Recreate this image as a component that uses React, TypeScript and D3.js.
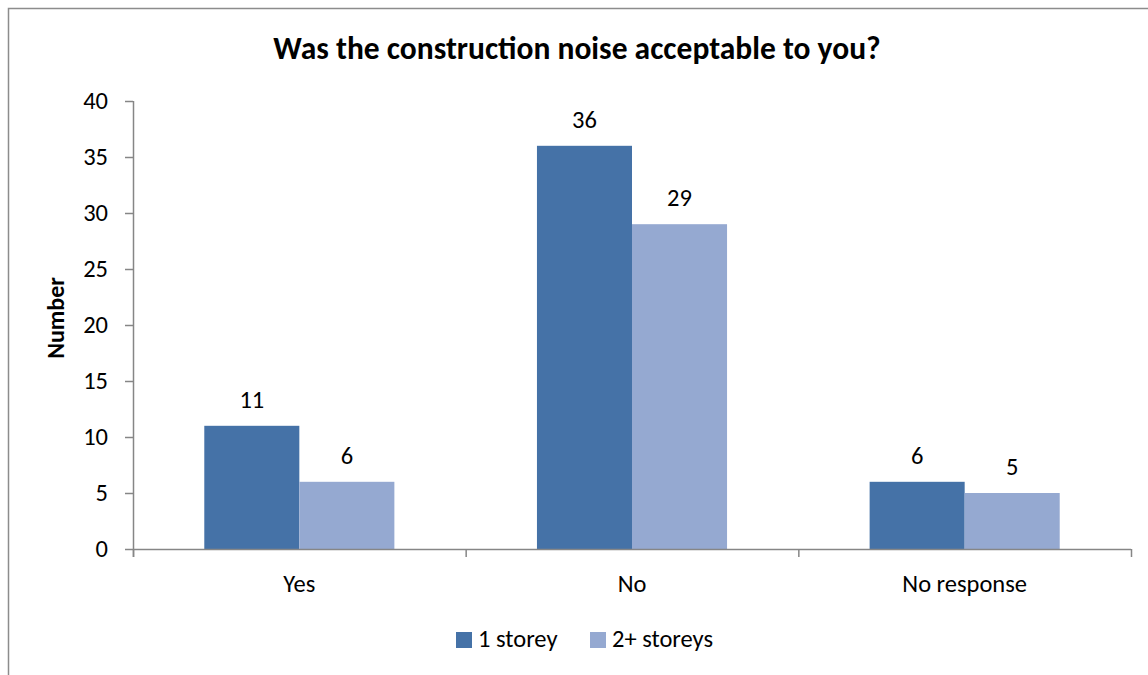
import React from "react";
import * as d3 from "d3";

const categories = ["Yes", "No", "No response"];
const seriesNames = ["1 storey", "2+ storeys"];
const oneStorey = [11, 36, 6];
const twoPlusStoreys = [6, 29, 5];
const yTicks = [0, 5, 10, 15, 20, 25, 30, 35, 40];
const colors = ["#4572A7", "#95A9D1"];

const W = 1148;
const H = 675;
const FONT = "Carlito, Calibri, 'Open Sans', 'Noto Sans', sans-serif";

export default function App() {
  const left = 133, right = 1131, top = 101, bottom = 549;
  const y = d3.scaleLinear().domain([0, 40]).range([bottom, top]);
  const x0 = d3.scaleBand<string>().domain(categories).range([left, right]).paddingInner(0).paddingOuter(0);
  const groupInner = 0.5714; // fraction of band occupied by both bars
  const bw = x0.bandwidth();
  const x1 = d3.scaleBand<string>().domain(seriesNames)
    .range([bw * (1 - groupInner) / 2, bw * (1 + groupInner) / 2]).padding(0);
  const series = [oneStorey, twoPlusStoreys];

  return (
    <svg width={W} height={H} style={{ position: "absolute", left: 0, top: 0, display: "block" }}>
      <rect x={0} y={0} width={W} height={H} fill="#fff" />
      <rect x={8.5} y={8.5} width={W + 20} height={H + 20} fill="#fff" stroke="#8c8c8c" strokeWidth={1.5} />
      <text x={577} y={59} textAnchor="middle" fontFamily={FONT} fontWeight="bold" fontSize={31.5} fill="#000">
        Was the construction noise acceptable to you?
      </text>
      {/* bars */}
      {series.map((vals, si) =>
        categories.map((c, ci) => {
          const bx = (x0(c) as number) + (x1(seriesNames[si]) as number);
          const by = y(vals[ci]);
          return (
            <g key={`${si}-${ci}`}>
              <rect x={bx} y={by} width={x1.bandwidth()} height={bottom - by} fill={colors[si]} />
              <text x={bx + x1.bandwidth() / 2} y={by - 18} textAnchor="middle" fontFamily={FONT} fontSize={24.5} fill="#000">
                {vals[ci]}
              </text>
            </g>
          );
        })
      )}
      {/* y axis */}
      <line x1={left + 0.5} x2={left + 0.5} y1={top} y2={bottom + 8} stroke="#868686" strokeWidth={1.5} />
      {yTicks.map((t) => (
        <g key={t}>
          <line x1={left - 8} x2={left} y1={y(t) + 0.5} y2={y(t) + 0.5} stroke="#868686" strokeWidth={1.5} />
          <text x={left - 25} y={y(t) + 8} textAnchor="end" fontFamily={FONT} fontSize={24.5} fill="#000">{t}</text>
        </g>
      ))}
      {/* x axis */}
      <line x1={left} x2={right} y1={bottom + 0.5} y2={bottom + 0.5} stroke="#868686" strokeWidth={1.5} />
      {[...categories.map((c) => x0(c) as number), right].map((tx, i) => (
        <line key={i} x1={tx + 0.5} x2={tx + 0.5} y1={bottom} y2={bottom + 8} stroke="#868686" strokeWidth={1.5} />
      ))}
      {categories.map((c) => (
        <text key={c} x={(x0(c) as number) + bw / 2} y={592} textAnchor="middle" fontFamily={FONT} fontSize={24.5} fill="#000">{c}</text>
      ))}
      {/* y label */}
      <text transform="translate(64,318) rotate(-90)" textAnchor="middle" fontFamily={FONT} fontWeight="bold" fontSize={24} fill="#000">Number</text>
      {/* legend */}
      {seriesNames.map((s, i) => {
        const lx = [456, 590][i];
        return (
          <g key={s}>
            <rect x={lx} y={632} width={16} height={16} fill={colors[i]} />
            <text x={lx + 22} y={647} fontFamily={FONT} fontSize={24.5} fill="#000">{s}</text>
          </g>
        );
      })}
    </svg>
  );
}
